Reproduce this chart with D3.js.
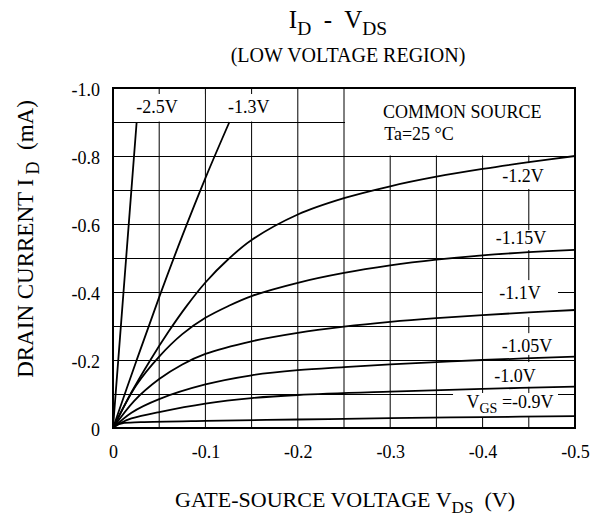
<!DOCTYPE html>
<html>
<head>
<meta charset="utf-8">
<script src="https://cdn.jsdelivr.net/npm/d3@7"></script>
<style>
body { margin: 0; background: #fff; }
svg text { font-family: "Liberation Serif", "Times New Roman", serif; fill: #000; }
</style>
</head>
<body>
<script>
// ID - VDS curves, each point is [VDS (V), ID (mA)]
const vgsM2_5 = [[0, 0], [-0.0128, -0.45], [-0.0256, -0.9]];
const vgsM1_3 = [[0, 0], [-0.025, -0.195], [-0.05, -0.385], [-0.075, -0.565], [-0.1, -0.735], [-0.126, -0.9]];
const vgsM1_2 = [[0, 0], [-0.02, -0.105], [-0.04, -0.198], [-0.06, -0.283], [-0.08, -0.36], [-0.1, -0.428],
    [-0.125, -0.497], [-0.15, -0.553], [-0.2, -0.628], [-0.25, -0.676], [-0.3, -0.711], [-0.35, -0.739],
    [-0.4, -0.762], [-0.45, -0.782], [-0.5, -0.8]];
const vgsM1_15 = [[0, 0], [-0.025, -0.125], [-0.05, -0.21], [-0.075, -0.276], [-0.1, -0.324], [-0.125, -0.359],
    [-0.15, -0.388], [-0.2, -0.427], [-0.25, -0.456], [-0.3, -0.478], [-0.35, -0.495], [-0.4, -0.508],
    [-0.45, -0.517], [-0.5, -0.524]];
const vgsM1_1 = [[0, 0], [-0.023, -0.08], [-0.05, -0.144], [-0.075, -0.187], [-0.1, -0.218], [-0.15, -0.255],
    [-0.2, -0.28], [-0.25, -0.298], [-0.3, -0.312], [-0.35, -0.323], [-0.4, -0.332], [-0.45, -0.34], [-0.5, -0.347]];
const vgsM1_05 = [[0, 0], [-0.02, -0.045], [-0.05, -0.085], [-0.1, -0.128], [-0.15, -0.155], [-0.2, -0.17],
    [-0.25, -0.179], [-0.3, -0.187], [-0.35, -0.194], [-0.4, -0.2], [-0.5, -0.21]];
const vgsM1_0 = [[0, 0], [-0.01, -0.017], [-0.02, -0.028], [-0.05, -0.047], [-0.1, -0.072], [-0.15, -0.088],
    [-0.2, -0.097], [-0.3, -0.107], [-0.4, -0.115], [-0.5, -0.1215]];
const vgsM0_9 = [[0, 0], [-0.003, -0.008], [-0.01, -0.014], [-0.03, -0.017], [-0.1, -0.021], [-0.2, -0.025],
    [-0.3, -0.029], [-0.4, -0.032], [-0.5, -0.035]];

const curves = [vgsM2_5, vgsM1_3, vgsM1_2, vgsM1_15, vgsM1_1, vgsM1_05, vgsM1_0, vgsM0_9];

const xTicks = [0, -0.1, -0.2, -0.3, -0.4, -0.5];
const yTicks = [0, -0.2, -0.4, -0.6, -0.8, -1.0];
const xGrid = d3.range(0, 11).map(k => -k * 0.05);
const yGrid = d3.range(0, 11).map(k => -k * 0.1);

// curve labels: text parts ([string, subscript?]), anchor point in data units, white box behind (v0, v1, i0, i1)
const curveLabels = [
    { parts: [["-2.5V", 0]], v: -0.0476, i: -0.926 },
    { parts: [["-1.3V", 0]], v: -0.147, i: -0.926 },
    { parts: [["-1.2V", 0]], v: -0.4437, i: -0.7235, box: [-0.41, -0.4816, -0.779, -0.703] },
    { parts: [["-1.15V", 0]], v: -0.4416, i: -0.541, box: [-0.41, -0.475, -0.582, -0.5235] },
    { parts: [["-1.1V", 0]], v: -0.4405, i: -0.379, box: [-0.4004, -0.4816, -0.435, -0.326] },
    { parts: [["-1.05V", 0]], v: -0.448, i: -0.2235, box: [-0.408, -0.489, -0.279, -0.215] },
    { parts: [["-1.0V", 0]], v: -0.435, i: -0.135, box: [-0.413, -0.462, -0.194, -0.121] },
    { parts: [["V", 0], ["GS", 1], [" =-0.9V", 0]], v: -0.4297, i: -0.0588, box: [-0.368, -0.4816, -0.103, -0.032] }
];

const W = 605, H = 516;
const plot = { left: 113, right: 575, top: 88, bottom: 428 };

const x = d3.scaleLinear().domain([0, -0.5]).range([plot.left, plot.right]);
const y = d3.scaleLinear().domain([0, -1.0]).range([plot.bottom, plot.top]);

const svg = d3.select("body").append("svg")
    .attr("width", W)
    .attr("height", H);

svg.append("rect").attr("width", W).attr("height", H).attr("fill", "#fff");

// text with subscripts
function richText(g, tx, ty, parts, size, anchor) {
    const t = g.append("text")
        .attr("x", tx).attr("y", ty)
        .attr("font-size", size)
        .attr("text-anchor", anchor || "middle")
        .attr("xml:space", "preserve")
        .style("white-space", "pre");
    let inSub = false;
    parts.forEach(([s, sub]) => {
        const sp = t.append("tspan").text(s);
        if (sub) sp.attr("font-size", size * 0.78);
        if (sub && !inSub) sp.attr("dy", size * 0.27);
        if (!sub && inSub) sp.attr("dy", -size * 0.27);
        inSub = !!sub;
    });
    return t;
}

const tickFmt = d => d === 0 ? "0" : d.toFixed(1);

// grid
const grid = svg.append("g");
grid.selectAll(".vgrid")
    .data(xGrid)
    .enter().append("line")
    .attr("x1", d => x(d)).attr("x2", d => x(d))
    .attr("y1", plot.top).attr("y2", plot.bottom)
    .attr("stroke", "#000").attr("stroke-width", 1);
grid.selectAll(".hgrid")
    .data(yGrid)
    .enter().append("line")
    .attr("x1", plot.left).attr("x2", plot.right)
    .attr("y1", d => Math.round(y(d)) + 0.5).attr("y2", d => Math.round(y(d)) + 0.5)
    .attr("stroke", "#000").attr("stroke-width", 1);

// white cells at the top: two label cells and the condition box
const knock = svg.append("g").attr("fill", "#fff");
[[0, -0.1, 6], [-0.1, -0.2, 6]].forEach(([a, b, stub]) => {
    knock.append("rect")
        .attr("x", x(a) + 1).attr("width", x(b) - x(a) - 2)
        .attr("y", y(-1.0) + stub).attr("height", y(-0.9) - y(-1.0) - stub - 0.5);
});
knock.append("rect")
    .attr("x", x(-0.25) + 1).attr("width", x(-0.5) - x(-0.25) - 2)
    .attr("y", y(-1.0) + 1).attr("height", y(-0.8) - y(-1.0) - 1.5);

curveLabels.filter(d => d.box).forEach(d => {
    const [v0, v1, i0, i1] = d.box;
    knock.append("rect")
        .attr("x", x(v0)).attr("width", x(v1) - x(v0))
        .attr("y", y(i0)).attr("height", y(i1) - y(i0));
});

// curves
const line = d3.line()
    .x(d => x(d[0]))
    .y(d => y(d[1]))
    .curve(d3.curveCatmullRom.alpha(0.5));

svg.append("g").selectAll("path")
    .data(curves)
    .enter().append("path")
    .attr("d", line)
    .attr("fill", "none")
    .attr("stroke", "#000")
    .attr("stroke-width", 1.8)
    .attr("stroke-linejoin", "round");

// frame
svg.append("rect")
    .attr("x", plot.left).attr("y", plot.top)
    .attr("width", plot.right - plot.left).attr("height", plot.bottom - plot.top)
    .attr("fill", "none").attr("stroke", "#000").attr("stroke-width", 2);

// axes
const xAxis = svg.append("g")
    .attr("transform", "translate(0," + plot.bottom + ")")
    .call(d3.axisBottom(x).tickValues(xTicks).tickFormat(tickFmt).tickSize(0).tickPadding(17));
const yAxis = svg.append("g")
    .attr("transform", "translate(" + plot.left + ",2)")
    .call(d3.axisLeft(y).tickValues(yTicks).tickFormat(tickFmt).tickSize(0).tickPadding(13));
[xAxis, yAxis].forEach(a => {
    a.select(".domain").remove();
    a.selectAll("text").attr("font-size", 18).attr("font-family", null);
});

// curve labels
const labels = svg.append("g");
curveLabels.forEach(d => {
    richText(labels, x(d.v), y(d.i), d.parts, 18, "middle");
});
labels.append("text").attr("x", x(-0.2922)).attr("y", y(-0.912)).attr("font-size", 18).text("COMMON SOURCE");
labels.append("text").attr("x", x(-0.2935)).attr("y", y(-0.847)).attr("font-size", 18).text("Ta=25 \u00b0C");

// titles
richText(svg, 338, 28, [["I", 0], ["D", 1], ["  -  V", 0], ["DS", 1]], 25, "middle");
svg.append("text").attr("x", 348).attr("y", 62).attr("font-size", 20)
    .attr("text-anchor", "middle").text("(LOW VOLTAGE REGION)");

richText(svg, 345, 507, [["GATE-SOURCE VOLTAGE V", 0], ["DS", 1], ["  (V)", 0]], 22, "middle");

const yTitle = svg.append("g").attr("transform", "translate(33,239) rotate(-90)");
richText(yTitle, 0, 0, [["DRAIN CURRENT I", 0], [" D", 1], ["  (mA)", 0]], 23, "middle");
</script>
</body>
</html>
